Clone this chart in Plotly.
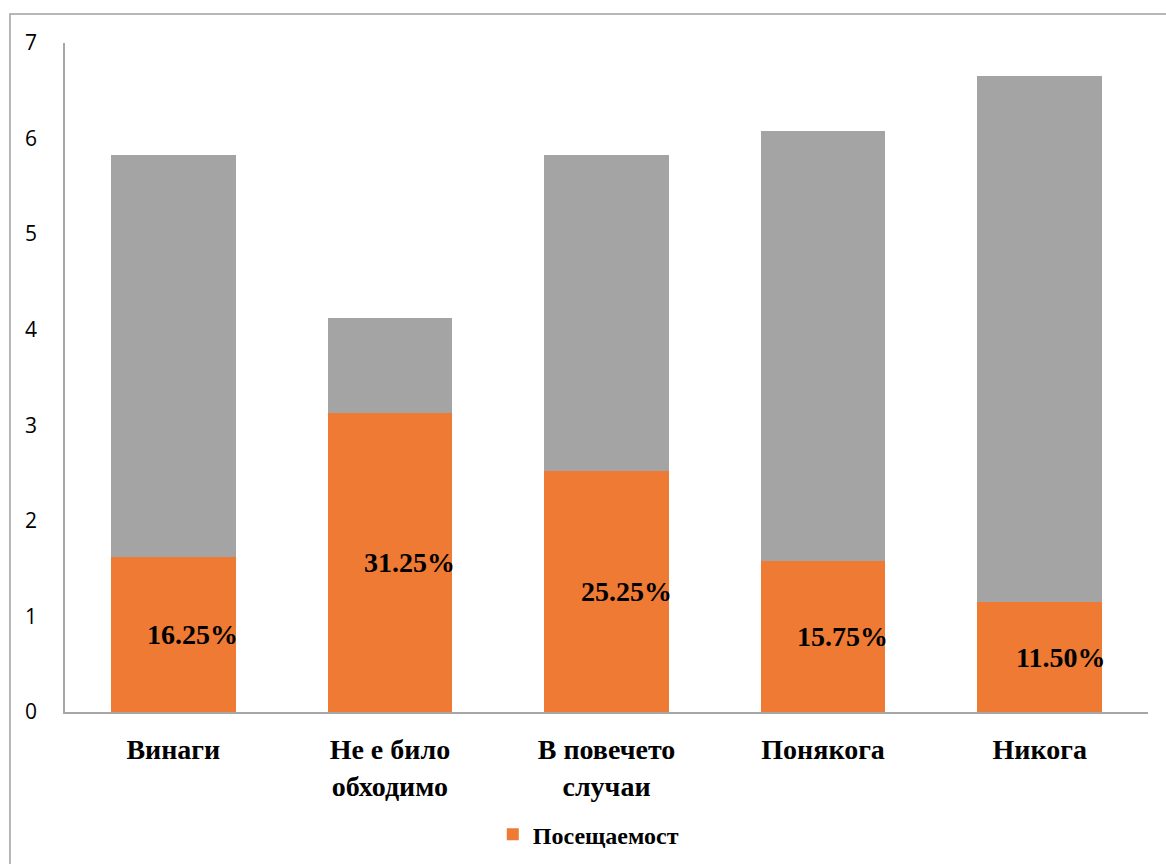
import plotly.graph_objects as go

# Survey answers and the share for each (as a fraction of 10)
categories = ["Винаги", "Не е било<br>обходимо", "В повечето<br>случаи", "Понякога", "Никога"]
attendance = [1.625, 3.125, 2.525, 1.575, 1.15]
attendance_labels = ["16.25%", "31.25%", "25.25%", "15.75%", "11.50%"]
remainder = [4.2, 1.0, 3.3, 4.5, 5.5]
y_ticks = [0, 1, 2, 3, 4, 5, 6, 7]

ORANGE = "#EE7A34"
GRAY = "#A4A4A4"
AXIS = "#A6A6A6"
SERIF = "Liberation Serif, Times New Roman, serif"
SANS = "Open Sans, Liberation Sans, sans-serif"
BAR_W = 0.575

fig = go.Figure()
fig.add_trace(go.Bar(
    x=categories, y=attendance, name="<b>Посещаемост</b>",
    marker=dict(color=ORANGE, line=dict(width=0)),
    width=BAR_W, hoverinfo="skip",
))
fig.add_trace(go.Bar(
    x=categories, y=remainder, name="Останали",
    marker=dict(color=GRAY, line=dict(width=0)),
    width=BAR_W, showlegend=False, hoverinfo="skip",
))

# Percentage labels inside the orange segments, right-aligned to the bar edge
for i, (v, lab) in enumerate(zip(attendance, attendance_labels)):
    fig.add_annotation(
        x=i + BAR_W / 2 + 0.022, y=v / 2, xref="x", yref="y",
        text=f"<b>{lab}</b>", showarrow=False,
        xanchor="right", yanchor="middle",
        font=dict(family=SERIF, size=28, color="black"),
    )

# Outer chart border
fig.add_shape(
    type="rect", xref="paper", yref="paper",
    x0=-0.0508, x1=1.2, y0=-0.3, y1=1.0433,
    line=dict(color="#A0A0A0", width=1.5), fillcolor="rgba(0,0,0,0)", layer="below",
)

fig.update_layout(
    barmode="stack",
    width=1166, height=864,
    margin=dict(l=65, r=18, t=43, b=152, autoexpand=False),
    paper_bgcolor="white", plot_bgcolor="white",
    showlegend=True,
    legend=dict(
        orientation="h", x=0.395, xanchor="left",
        yref="container", y=0.034, yanchor="middle",
        font=dict(family=SERIF, size=24, color="black"),
        itemclick=False, itemdoubleclick=False,
    ),
    xaxis=dict(
        showline=True, linecolor=AXIS, linewidth=1.5,
        showgrid=False, ticks="", ticklabelstandoff=12,
        tickfont=dict(family=SERIF, size=28, color="black"),
        tickvals=categories,
        ticktext=[f"<b>{c}</b>" for c in categories],
    ),
    yaxis=dict(
        range=[0, 7], tickvals=y_ticks,
        showline=True, linecolor=AXIS, linewidth=1.5,
        showgrid=False, ticks="", zeroline=False,
        ticklabelstandoff=22,
        tickfont=dict(family=SANS, size=21, color="black"),
    ),
)

fig.write_html("out.html")
